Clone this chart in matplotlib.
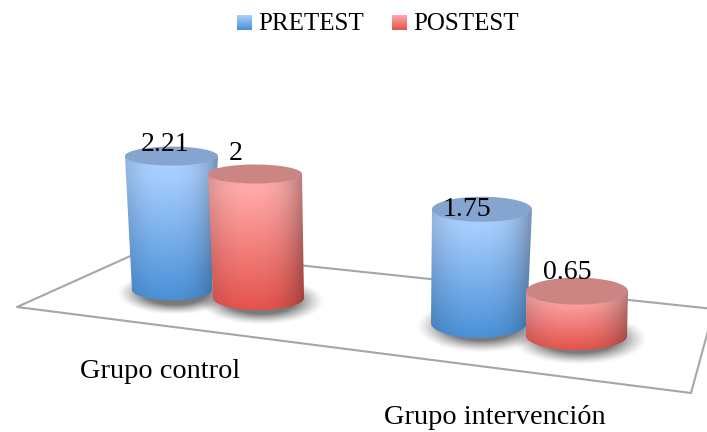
import numpy as np
import matplotlib
matplotlib.use('Agg')
from matplotlib import pyplot as plt
from matplotlib.path import Path
from matplotlib.patches import Ellipse, PathPatch

plt.rcParams['font.family'] = ['Liberation Serif', 'DejaVu Serif']

groups = ['Grupo control', 'Grupo intervención']
series = ['PRETEST', 'POSTEST']
pretest = [2.21, 1.75]
postest = [2, 0.65]

# layout of the fake 3d scene, in pixels: [pretest, postest] for each group
base_x = [[172, 258.5], [479, 576.5]]
base_y = [[290, 298], [323, 336]]
base_w = [[40, 45.5], [48, 50.5]]
top_x = [[171.5, 255], [482, 577]]
top_w = [[46.5, 47], [50, 51]]
top_r = [[9.5, 9.5], [12.5, 13.5]]
base_r = [[10, 12], [15, 14]]
px_per_unit = [[60.6, 62], [65, 69]]
label_dx = [[-6.5, -19], [-15, -10]]
label_dy = [[-12, -20], [0, -19]]

light = {'PRETEST': '#a8cfff', 'POSTEST': '#ffa9a8'}
dark = {'PRETEST': '#4a90d8', 'POSTEST': '#e4534c'}
lid = {'PRETEST': '#85a5d0', 'POSTEST': '#cb8684'}


def rgb(c):
    return np.array(matplotlib.colors.to_rgb(c))


def shadow(ax, cx, cy, w, r):
    xs = np.linspace(cx - w, cx + w, 120)
    ys = np.linspace(cy - r, cy + r, 60)
    xx, yy = np.meshgrid(xs, ys)
    d = np.sqrt(((xx - cx) / w) ** 2 + ((yy - cy) / r) ** 2)
    a = np.clip((1 - d) / 0.45, 0, 1) ** 1.3 * 0.8
    img = np.zeros((60, 120, 4))
    img[..., :3] = 0.35
    img[..., 3] = a
    ax.imshow(img, extent=(cx - w, cx + w, cy + r, cy - r), aspect='auto', zorder=2, interpolation='bilinear')


def cylinder(ax, name, bx, by, bw, br, tx, ty, tw, tr, z):
    # outline: down the left side, round the base, up the right side
    t = np.linspace(np.pi, 0, 40)
    low = np.column_stack([bx + bw * np.cos(t), by + br * np.sin(t)])
    outline = np.vstack([[tx - tw, ty], low, [tx + tw, ty], [tx - tw, ty]])
    left, right = min(tx - tw, bx - bw), max(tx + tw, bx + bw)
    bottom = by + br
    n = 120
    xx, yy = np.meshgrid(np.linspace(-1, 1, n), np.linspace(0, 1, n))
    edge = 1 - 0.3 * np.clip((xx + 0.2) / 1.2, 0, 1) ** 3 - 0.14 * np.clip((-xx - 0.2) / 0.8, 0, 1) ** 2
    f = np.clip((yy - 0.12) / 0.88, 0, 1)
    img = np.zeros((n, n, 3))
    for i in range(3):
        img[..., i] = (rgb(light[name])[i] * (1 - f) + rgb(dark[name])[i] * f) * edge
    im = ax.imshow(np.clip(img, 0, 1), extent=(left, right, bottom, ty), aspect='auto', zorder=z, interpolation='bilinear')
    patch = PathPatch(Path(outline), transform=ax.transData, fc='none', ec='none')
    ax.add_patch(patch)
    im.set_clip_path(patch)
    ax.add_patch(Ellipse((tx, ty), 2 * tw, 2 * tr, fc=lid[name], ec='none', zorder=z + 0.1))


fig = plt.figure(figsize=(7.07, 4.32), dpi=100)
ax = fig.add_axes([0, 0, 1, 1])

# floor
floor_x = [146, 17, 691, 714, 146]
floor_y = [249, 307, 393, 309, 249]
ax.plot(floor_x, floor_y, color='#a6a6a6', lw=1.5, zorder=1)

values = [pretest, postest]
for g in range(2):
    for s in range(2):
        shadow(ax, base_x[g][s] + 3, base_y[g][s] + 3, base_w[g][s] + 18, base_r[g][s] + 12)
for g in range(2):
    for s in range(2):
        v = values[s][g]
        ty = base_y[g][s] - v * px_per_unit[g][s]
        cylinder(ax, series[s], base_x[g][s], base_y[g][s], base_w[g][s], base_r[g][s],
                 top_x[g][s], ty, top_w[g][s], top_r[g][s], 3 + s)
        ax.text(top_x[g][s] + label_dx[g][s], ty + label_dy[g][s], str(v), fontsize=20,
                ha='center', va='center', color='black', zorder=6)

ax.text(160.5, 372, groups[0], fontsize=20.4, ha='center', va='center')
ax.text(495, 418, groups[1], fontsize=20.4, ha='center', va='center')

# legend
leg_x = [237, 392]
for s in range(2):
    c = np.linspace(rgb(light[series[s]]), rgb(dark[series[s]]), 15)[:, None, :]
    ax.imshow(c, extent=(leg_x[s], leg_x[s] + 15, 30, 15), aspect='auto', zorder=3)
    ax.text(leg_x[s] + 21, 24, series[s], fontsize=18, ha='left', va='center')

ax.set_xlim(0, 707)
ax.set_ylim(432, 0)
ax.axis('off')
fig.savefig('out.png', dpi=100)
